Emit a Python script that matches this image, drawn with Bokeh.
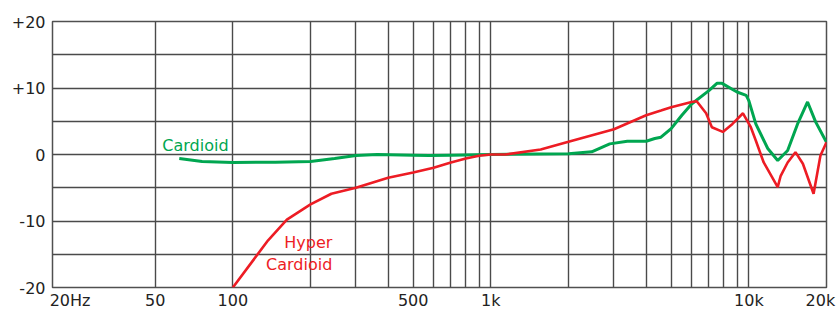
from bokeh.plotting import figure
from bokeh.models import FixedTicker, ColumnDataSource
from bokeh.core.properties import value
from bokeh.embed import file_html
from bokeh.resources import INLINE

# ---- data ----
grid_freqs = [20, 50, 100, 200, 300, 400, 500, 600, 700, 800, 900,
              1000, 2000, 3000, 4000, 5000, 6000, 7000, 8000, 9000, 10000, 20000]
# tick label positions (20Hz / 20k labels sit beside their grid lines, as in the original)
label_freqs = [23.4, 50, 100, 500, 1000, 10000, 18940]
label_texts = ["20Hz", "50", "100", "500", "1k", "10k", "20k"]
y_ticks = [-20, -15, -10, -5, 0, 5, 10, 15, 20]
y_texts = ["-20", "", "-10", "", "0", "", "+10", "", "+20"]

card_f = [62, 76, 100, 146, 200, 248, 300, 363, 500, 575, 700, 1000, 2000, 2460,
          2890, 3380, 4000, 4320, 4565, 5000, 5500, 6000, 7000, 7520, 7870, 9000,
          9765, 10000, 10640, 11840, 12940, 14140, 15450, 16890, 18150, 20000]
card_db = [-0.6, -1.05, -1.2, -1.15, -1.05, -0.6, -0.15, 0, -0.1, -0.15, -0.1, 0, 0.1, 0.4,
           1.6, 2.0, 2.0, 2.4, 2.6, 3.9, 5.9, 7.6, 9.6, 10.7, 10.7, 9.4,
           8.9, 8.1, 4.6, 0.9, -0.9, 0.6, 4.6, 7.9, 4.9, 1.85]

hyper_f = [100, 137, 162, 200, 241, 300, 400, 500, 600, 700, 800, 900, 1000, 1140,
           1560, 2000, 3000, 4000, 4565, 5000, 6000, 6280, 6830, 7190, 7930, 8640,
           9490, 10180, 10640, 11420, 12940, 13290, 14140, 15160, 16200, 17820, 18950, 20000]
hyper_db = [-20, -12.9, -9.8, -7.5, -5.9, -5.0, -3.5, -2.7, -2.0, -1.2, -0.6, -0.2, 0, 0,
            0.75, 1.9, 3.8, 5.9, 6.6, 7.1, 7.9, 8.0, 6.2, 4.1, 3.4, 4.6,
            6.2, 4.1, 2.1, -1.2, -4.9, -3.2, -1.2, 0.35, -1.4, -5.9, -0.15, 1.85]

series_labels = ["Cardioid", "Hyper", "Cardioid"]
series_label_x = [53.3, 243, 243]
series_label_y = [1.3, -13.2, -16.55]

GREEN = "#00a650"
RED = "#ed1c24"
FONT = "DejaVu Sans"

p = figure(width=838, height=312, x_axis_type="log", x_range=(20, 20000), y_range=(-20, 20),
           output_backend="svg", toolbar_location=None,
           min_border_left=52, min_border_right=12, min_border_top=21, min_border_bottom=25)

p.background_fill_color = "white"
p.border_fill_color = "white"
p.outline_line_color = "#505050"
p.outline_line_width = 1.5

p.xaxis.ticker = FixedTicker(ticks=label_freqs, minor_ticks=[])
p.xaxis.major_label_overrides = dict(zip(label_freqs, label_texts))
p.xgrid.ticker = FixedTicker(ticks=grid_freqs, minor_ticks=[])
p.yaxis.ticker = FixedTicker(ticks=y_ticks, minor_ticks=[])
p.yaxis.major_label_overrides = dict(zip(y_ticks, y_texts))

for ax in (p.xaxis, p.yaxis):
    ax.axis_line_color = None
    ax.major_tick_line_color = None
    ax.minor_tick_line_color = None
    ax.major_tick_out = 0
    ax.major_tick_in = 0
    ax.major_label_text_font = FONT
    ax.major_label_text_font_size = "16px"
    ax.major_label_text_color = "#222222"
p.xaxis.major_label_standoff = 3
p.yaxis.major_label_standoff = 7

for g in (p.xgrid, p.ygrid):
    g.grid_line_color = "#4a4a4a"
    g.grid_line_width = 1.4
    g.minor_grid_line_color = None

p.line(card_f, card_db, line_color=GREEN, line_width=3)
p.line(hyper_f, hyper_db, line_color=RED, line_width=2.6)

src_c = ColumnDataSource(dict(x=series_label_x[:1], y=series_label_y[:1], t=series_labels[:1]))
p.text(x="x", y="y", text="t", source=src_c, text_color=GREEN, text_font=value(FONT),
       text_font_size="16px", text_align="left", text_baseline="alphabetic")
src_h = ColumnDataSource(dict(x=series_label_x[1:], y=series_label_y[1:], t=series_labels[1:]))
p.text(x="x", y="y", text="t", source=src_h, text_color=RED, text_font=value(FONT),
       text_font_size="16px", text_align="right", text_baseline="alphabetic")

open("out.html", "w").write(file_html(p, INLINE))
